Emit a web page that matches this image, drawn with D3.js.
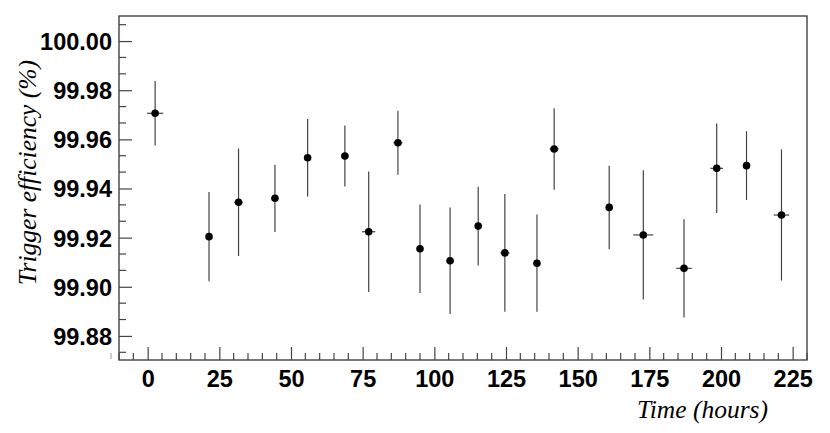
<!DOCTYPE html>
<html>
<head>
<meta charset="utf-8">
<script src="https://cdn.jsdelivr.net/npm/d3@7/dist/d3.min.js"></script>
<style>
  html, body { margin: 0; padding: 0; background: #fff; }
  svg { display: block; }
</style>
</head>
<body>
<svg id="chart" width="830" height="433"></svg>
<script>
// ---- data ----
const timeHours = [2.6, 21.4, 31.7, 44.4, 55.8, 68.8, 77.1, 87.3, 95.0, 105.5,
                   115.3, 124.6, 135.8, 141.8, 161.0, 172.9, 187.1, 198.5, 208.9, 221.1];
const timeErr   = [2.8, 1.0, 1.5, 1.0, 1.2, 1.3, 2.3, 1.6, 1.0, 1.3,
                   1.0, 1.6, 1.0, 1.6, 1.0, 3.5, 2.7, 2.2, 1.0, 2.7];
const efficiency = [99.9706, 99.9204, 99.9344, 99.9360, 99.9525, 99.9532, 99.9224, 99.9586, 99.9155, 99.9106,
                    99.9247, 99.9138, 99.9096, 99.9561, 99.9323, 99.9211, 99.9075, 99.9482, 99.9493, 99.9292];
const effErr    = [0.0131, 0.0182, 0.0219, 0.0137, 0.0158, 0.0124, 0.0245, 0.0130, 0.0180, 0.0217,
                   0.0160, 0.0240, 0.0198, 0.0166, 0.0170, 0.0263, 0.0200, 0.0182, 0.0140, 0.0267];
const xTickValues = [0, 25, 50, 75, 100, 125, 150, 175, 200, 225];
const yTickValues = [99.88, 99.90, 99.92, 99.94, 99.96, 99.98, 100.00];
const xTitle = "Time (hours)";
const yTitle = "Trigger efficiency (%)";

// ---- layout ----
const L = 119, R = 807, T = 16, B = 360;
const svg = d3.select("#chart");

const x = d3.scaleLinear().domain([-10, 230]).range([L, R]);
const y = d3.scaleLinear().domain([99.8702, 100.0102]).range([B, T]);

const tickFont = "'Liberation Sans', Arial, Helvetica, sans-serif";
const titleFont = "'Liberation Serif', 'Times New Roman', Times, serif";

// frame
svg.append("rect")
  .attr("x", L).attr("y", T).attr("width", R - L).attr("height", B - T)
  .attr("fill", "none").attr("stroke", "#333").attr("stroke-width", 1.3);

// x ticks (inward)
const xMinor = d3.range(-10, 231, 5).filter(v => xTickValues.indexOf(v) < 0);
const xAxis = d3.axisBottom(x).tickValues(xTickValues).tickSizeInner(-13).tickSizeOuter(0).tickFormat(d3.format("d"));
const gx = svg.append("g").attr("transform", `translate(0,${B})`).call(xAxis);
gx.select(".domain").remove();
gx.selectAll(".tick line").attr("stroke", "#444").attr("stroke-width", 1.2);
gx.selectAll(".tick text")
  .attr("y", 27).attr("dy", 0)
  .attr("font-family", tickFont).attr("font-weight", "bold").attr("font-size", 23.5).attr("fill", "#000");
svg.append("g").selectAll("line").data(xMinor).join("line")
  .attr("x1", d => x(d)).attr("x2", d => x(d))
  .attr("y1", B).attr("y2", B - 7)
  .attr("stroke", "#444").attr("stroke-width", 1.2);

// y ticks (inward)
const yMinor = d3.range(-1, 20).map(k => 99.88 + k * 0.02 / 3)
  .filter(v => v >= y.domain()[0] && v <= y.domain()[1])
  .filter(v => Math.abs(((v - 99.88) / 0.02) - Math.round((v - 99.88) / 0.02)) > 0.01);
const yAxis = d3.axisLeft(y).tickValues(yTickValues).tickSizeInner(-13).tickSizeOuter(0).tickFormat(d3.format(".2f"));
const gy = svg.append("g").attr("transform", `translate(${L},0)`).call(yAxis);
gy.select(".domain").remove();
gy.selectAll(".tick line").attr("stroke", "#444").attr("stroke-width", 1.2);
gy.selectAll(".tick text")
  .attr("x", -7).attr("dy", "0.36em")
  .attr("font-family", tickFont).attr("font-weight", "bold").attr("font-size", 23.5).attr("fill", "#000");
svg.append("g").selectAll("line").data(yMinor).join("line")
  .attr("x1", L).attr("x2", L + 7)
  .attr("y1", d => y(d)).attr("y2", d => y(d))
  .attr("stroke", "#444").attr("stroke-width", 1.2);

// small stray mark left of axis (present in reference)
svg.append("line").attr("x1", 111).attr("x2", 111).attr("y1", 353).attr("y2", 359)
  .attr("stroke", "#aaa").attr("stroke-width", 1.2);

// titles
svg.append("text")
  .attr("x", 768).attr("y", 418).attr("text-anchor", "end")
  .attr("font-family", titleFont).attr("font-style", "italic").attr("font-size", 25.5).attr("fill", "#000")
  .text(xTitle);
svg.append("text")
  .attr("transform", "translate(36,60) rotate(-90)").attr("text-anchor", "end")
  .attr("font-family", titleFont).attr("font-style", "italic").attr("font-size", 25.5).attr("fill", "#000")
  .text(yTitle);

// data
const pts = timeHours.map((t, i) => ({ t, te: timeErr[i], v: efficiency[i], ve: effErr[i] }));
const g = svg.append("g");
g.selectAll("line.ey").data(pts).join("line").attr("class", "ey")
  .attr("x1", d => x(d.t)).attr("x2", d => x(d.t))
  .attr("y1", d => y(d.v + d.ve)).attr("y2", d => y(d.v - d.ve))
  .attr("stroke", "#444").attr("stroke-width", 1.2);
g.selectAll("line.ex").data(pts).join("line").attr("class", "ex")
  .attr("x1", d => x(d.t - d.te)).attr("x2", d => x(d.t + d.te))
  .attr("y1", d => y(d.v)).attr("y2", d => y(d.v))
  .attr("stroke", "#444").attr("stroke-width", 1.2);
g.selectAll("circle").data(pts).join("circle")
  .attr("cx", d => x(d.t)).attr("cy", d => y(d.v)).attr("r", 3.8)
  .attr("fill", "#000");
</script>
</body>
</html>
